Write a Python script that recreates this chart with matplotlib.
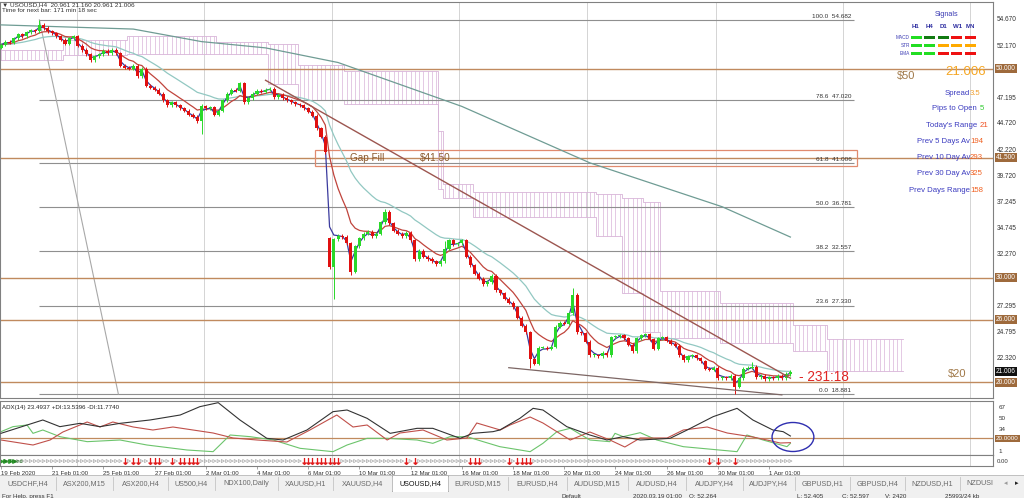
import matplotlib.pyplot as plt
import numpy as np
import pandas as pd
from matplotlib.patches import Rectangle, Ellipse

plt.rcParams['font.family'] = ['Liberation Sans', 'DejaVu Sans']

# ---------------- data ----------------
# USOUSD H4 closes, one per bar (19 Feb 2020 -> 1 Apr 2020)
closes = [
    52.3, 52.6, 52.5, 52.9, 53.3, 53.1, 53.5, 53.7, 53.6, 54.2,
    53.9, 53.6, 53.4, 53.1, 52.8, 52.4, 52.9, 53.1, 52.2, 51.8,
    51.4, 50.8, 51.2, 51.4, 51.7, 51.5, 51.8, 51.5, 50.3, 50.1,
    50.0, 50.3, 49.3, 50.0, 48.4, 48.2, 48.0, 47.6, 47.0, 46.5,
    46.8, 46.5, 46.2, 46.0, 45.6, 45.4, 45.0, 46.4, 46.2, 46.3,
    45.6, 46.0, 47.0, 47.6, 48.0, 47.9, 48.6, 46.8, 47.2, 47.6,
    47.9, 47.8, 48.0, 48.1, 47.3, 47.5, 47.2, 47.0, 46.8, 46.6,
    46.5, 46.2, 45.9, 45.5, 44.3, 43.5, 42.0, 31.0, 33.7, 34.0,
    33.9, 33.3, 30.6, 33.0, 33.8, 34.2, 34.4, 34.0, 34.2, 35.3,
    36.3, 35.2, 34.5, 34.2, 34.0, 34.3, 33.6, 31.8, 32.6, 32.0,
    31.8, 31.6, 31.3, 31.6, 32.8, 33.6, 33.2, 33.3, 33.6, 32.0,
    31.2, 30.4, 29.9, 29.4, 29.6, 30.2, 28.8, 28.5, 28.0, 27.6,
    27.2, 26.2, 25.4, 24.8, 22.2, 21.8, 23.3, 23.3, 23.2, 23.4,
    25.3, 25.7, 25.6, 26.6, 28.4, 24.8, 24.7, 23.9, 22.6, 22.6,
    22.5, 22.8, 22.6, 24.3, 24.4, 24.5, 24.2, 23.6, 23.0, 24.2,
    24.5, 24.6, 24.1, 23.2, 24.2, 24.3, 24.0, 23.7, 23.5, 22.6,
    22.1, 22.5, 22.6, 22.3, 22.0, 21.3, 21.2, 21.4, 20.4, 20.5,
    20.4, 20.6, 19.6, 20.4, 21.3, 21.4, 21.5, 20.5, 20.6, 20.3,
    20.5, 20.4, 20.6, 20.4, 20.8, 21.006,
]
first_open = 52.0
gap_opens = {77: 33.8}
wick_high = {9: 54.68, 90: 36.6, 134: 29.0, 176: 21.9, 47: 46.6, 104: 33.5}
wick_low = {47: 43.8, 78: 28.0, 82: 30.3, 124: 21.4, 172: 18.9}
wick = 0.15

# long moving average (grey-green), read as points
long_bars = [0, 31, 47, 62, 79, 108, 138, 169, 185]
long_vals = [54.2, 53.8, 52.6, 52.0, 50.6, 46.4, 41.0, 36.8, 33.9]

# ichimoku cloud: (first bar, last bar, upper, lower)
cloud = [
    (0, 14, 51.8, 50.8), (15, 29, 52.8, 51.3), (30, 50, 53.1, 51.4),
    (51, 62, 52.6, 51.4), (63, 69, 52.4, 48.5), (70, 80, 50.4, 47.0),
    (81, 102, 49.8, 46.6), (103, 103, 44.0, 38.5), (104, 110, 39.0, 37.6),
    (111, 139, 38.2, 35.8), (140, 145, 38.0, 34.0), (146, 150, 37.6, 28.5),
    (151, 154, 37.3, 24.8), (155, 168, 28.7, 24.2), (169, 185, 27.6, 23.8),
    (186, 193, 25.5, 23.0), (194, 211, 24.1, 21.1),
]

fib_pcts = ['100.0', '78.6', '61.8', '50.0', '38.2', '23.6', '0.0']
fib_levels = [54.682, 47.020, 41.006, 36.781, 32.557, 27.330, 18.881]
key_levels = [50.0, 41.5, 30.0, 26.0, 20.0]
gap_zone = (73.6, 200.6, 40.72, 42.25)
resist_line = ([62, 185], [48.9, 20.4])
support_line = ([119, 183], [21.4, 18.8])
fib_diag = ([9, 27.5], [54.682, 18.881])

price_ticks = [54.670, 52.170, 47.195, 44.720, 42.220, 39.720, 37.245,
               34.745, 32.270, 27.295, 24.795, 22.320]
date_bars = [0, 12, 24, 36, 48, 60, 72, 84, 96, 108, 120, 132, 144, 156, 168, 180]
date_labels = ['19 Feb 2020', '21 Feb 01:00', '25 Feb 01:00', '27 Feb 01:00',
               '2 Mar 01:00', '4 Mar 01:00', '6 Mar 01:00', '10 Mar 01:00',
               '12 Mar 01:00', '16 Mar 01:00', '18 Mar 01:00', '20 Mar 01:00',
               '24 Mar 01:00', '26 Mar 01:00', '30 Mar 01:00', '1 Apr 01:00']

# ADX(14) pane
adx_x = [0, 9.8, 13.8, 18.5, 23.2, 27.9, 34.9, 42, 46.6, 50.9, 56, 62.3, 66.1,
         71.7, 77.8, 81.1, 85.8, 91.2, 97.5, 101.2, 107.6, 110.6, 115.3, 116.9,
         121.6, 124.7, 127, 132.6, 138, 142, 145.8, 149.8, 156.8, 160.8, 166.9,
         172.5, 176.2, 180.9, 183.3, 185]
adx_v = [27.5, 47.5, 37.5, 42.5, 37.5, 42.5, 47.5, 55, 67.5, 73.5, 47.5, 20,
         17.5, 32.5, 60, 62.5, 50, 27.5, 35, 35, 20, 27.5, 30, 32.5, 50, 65,
         62.5, 37.5, 25, 17.5, 22.5, 17.5, 20, 32.5, 52.5, 65, 47.5, 32.5, 30, 23.5]
pdi_x = [0, 7.5, 11.5, 14.5, 20.2, 23.2, 26.2, 31, 35.6, 40.3, 45, 49.7, 54.4,
         60, 67, 72.4, 78.7, 82.5, 85.8, 90.5, 93.5, 98.9, 104.5, 109.2, 111.5,
         117, 119.3, 124, 127, 133.4, 138, 142.7, 146.2, 149.8, 156.1, 159.9,
         165.5, 170.2, 176.2, 179.5, 182.6, 185]
pdi_v = [17.5, 10, 17.5, 29.5, 44.5, 37, 44.5, 37, 32.5, 37, 32.5, 28, 20.5,
         17.5, 14.5, 32.5, 55, 37, 40, 17.5, 28, 32.5, 17.5, 20.5, 43, 32.5, 40,
         52, 43, 17.5, 29.5, 17.5, 7, 20.5, 20.5, 32.5, 37, 28, 22, 17.5, 13, 13.5]
mdi_x = [0, 2.8, 6.1, 7.5, 9.8, 13.8, 20.2, 27.9, 34.2, 43.6, 49.7, 53.7, 58.4,
         63.8, 70.1, 77.8, 81.1, 85.8, 90.5, 97.5, 101.2, 105.2, 109.2, 113,
         116.9, 124, 127, 130.3, 133.4, 138, 142.7, 143.9, 145.8, 149.8, 153.7,
         159.9, 172.5, 174.8, 178.6, 184.2, 185]
mdi_v = [30, 37.5, 40, 27.5, 32.5, 22.5, 15, 17.5, 10, 2.5, 0, 25, 22.5, 17.5,
         5, 0, 10, 20, 20, 17.5, 12.5, 22.5, 22.5, 15, 7.5, 0, 12.5, 30, 35,
         17.5, 15, 27.5, 22.5, 28.5, 17.5, 7.5, 0, 25, 17.5, 7.5, 12.5]
adx_ticks = [67, 50, 34, 1]

red_arrow_bars = [29, 31, 32, 35, 36, 37, 40, 42, 43, 44, 45, 46, 71, 72, 73,
                  74, 75, 76, 77, 78, 79, 95, 97, 110, 111, 112, 119, 121, 122,
                  123, 124, 166, 168, 172]

signal_rows = ['MACD', 'STR', 'EMA']
signal_cols = ['H1', 'H4', 'D1', 'W1', 'MN']
signal_state = [['#22dd22', '#127a12', '#127a12', '#ee1111', '#ee1111'],
                ['#22dd22', '#22dd22', '#ffaa00', '#ffaa00', '#ffaa00'],
                ['#22dd22', '#22dd22', '#ee1111', '#ee1111', '#ee1111']]

info_labels = ['Spread', 'Pips to Open', "Today's Range", 'Prev 5 Days Av',
               'Prev 10 Day Av', 'Prev 30 Day Av', 'Prev Days Range']
info_values = ['3.5', '5', '21', '194', '293', '325', '158']
info_colors = ['#f0a030', '#33cc33', '#f05020', '#f06020', '#f06020', '#f06020', '#f06020']

tabs = ['USDCHF,H4', 'ASX200,M15', 'ASX200,H4', 'US500,H4', 'NDX100,Daily',
        'XAUUSD,H1', 'XAUUSD,H4', 'USOUSD,H4', 'EURUSD,M15', 'EURUSD,H4',
        'AUDUSD,M15', 'AUDUSD,H4', 'AUDJPY,H4', 'AUDJPY,H4', 'GBPUSD,H1',
        'GBPUSD,H4', 'NZDUSD,H1', 'NZDUSI']
tab_edges = [0, 56, 113, 168, 215, 278, 333, 392, 448, 508, 567, 628, 686,
             743, 795, 850, 905, 960, 1000]
active_tab = 7

status_items = [(2, 'For Help, press F1'), (562, 'Default'), (633, '2020.03.19 01:00'),
                (689, 'O: 52.264'), (797, 'L: 52.405'), (842, 'C: 52.597'),
                (885, 'V: 2420'), (945, '25993/24 kb')]

# ---------------- layout ----------------
W, H = 1024, 498
fig = plt.figure(figsize=(W / 100, H / 100), dpi=100)
fig.patch.set_facecolor('white')


def box(top, bottom, left=0, right=993):
    return [left / W, 1 - bottom / H, (right - left) / W, (bottom - top) / H]


ax = fig.add_axes(box(2, 398))
ax2 = fig.add_axes(box(401, 455))
ax3 = fig.add_axes(box(455, 466))
xlim = (-1 / 4.267, 992 / 4.267)
for a in (ax, ax2, ax3):
    a.set_xlim(*xlim)
    a.set_xticks([])
    a.set_yticks([])
    for s in a.spines.values():
        s.set_color('#808080')
        s.set_linewidth(0.8)
    for gx in [17.8, 47.6, 77.6, 107.3, 137.3, 167.6, 197.3, 227.1]:
        a.axvline(gx, color='#d4d4d4', lw=0.7, zorder=0)
ax.set_ylim(18.50, 56.39)
ax2.set_ylim(-5, 76)
ax3.set_ylim(0, 1)

# ---------------- main pane ----------------
top_x, top_y, bot_y = [], [], []
for b0, b1, top, bot in cloud:
    bars = np.arange(b0, b1 + 1)
    ax.vlines(bars, bot, top, color='#e4c9e4', lw=0.7, zorder=1)
    top_x += [b0 - 0.5, b1 + 0.5]
    top_y += [top, top]
    bot_y += [bot, bot]
ax.plot(top_x, top_y, color='#d8b4d8', lw=0.6, zorder=1)
ax.plot(top_x, bot_y, color='#d8b4d8', lw=0.6, zorder=1)

for lvl in fib_levels:
    ax.hlines(lvl, 9, 200, color='#8f8f8f', lw=0.8, zorder=1.5)
for pct, lvl in zip(fib_pcts, fib_levels):
    ax.text(199.3, lvl + 0.12, f'{pct}  {lvl:.3f}', fontsize=4.6, ha='right',
            va='bottom', color='#333333', zorder=6)
ax.plot(*fib_diag, color='#a8a8a8', lw=0.8, zorder=1.5)

for lvl in key_levels:
    ax.axhline(lvl, color='#c08a5e', lw=1.0, zorder=2)

g0, g1, gl, gh = gap_zone
ax.add_patch(Rectangle((g0, gl), g1 - g0, gh - gl, fill=False,
                       edgecolor='#e08a6e', lw=0.9, zorder=2.5))
ax.text(81.8, 41.5, 'Gap Fill', fontsize=7.2, color='#8a5a2e', va='center', zorder=6)
ax.text(98.2, 41.5, '$41.50', fontsize=7.2, color='#8a5a2e', va='center', zorder=6)

cs = pd.Series(closes)
ema_fast = cs.ewm(span=2, adjust=False).mean()
ema_mid = cs.ewm(span=8, adjust=False).mean()
ema_slow = cs.ewm(span=21, adjust=False).mean()
idx = np.arange(len(closes))
ax.plot(long_bars, long_vals, color='#6f9c94', lw=0.9, zorder=3)
ax.plot(idx, ema_slow, color='#92c8c2', lw=0.9, zorder=3)
ax.plot(idx, ema_mid, color='#c0443c', lw=0.9, zorder=3)
ax.plot(idx, ema_fast, color='#3b3b9e', lw=0.9, zorder=3.2)

opens = [first_open] + closes[:-1]
for b, o in gap_opens.items():
    opens[b] = o
highs = [wick_high.get(i, max(o, c) + wick) for i, (o, c) in enumerate(zip(opens, closes))]
lows = [wick_low.get(i, min(o, c) - wick) for i, (o, c) in enumerate(zip(opens, closes))]
cols = ['#2ad82a' if c >= o else '#e01010' for o, c in zip(opens, closes)]
ax.vlines(idx, lows, highs, colors=cols, lw=0.7, zorder=4)
bottoms = [min(o, c) for o, c in zip(opens, closes)]
heights = [max(abs(c - o), 0.09) for o, c in zip(opens, closes)]
ax.bar(idx, heights, bottom=bottoms, width=0.72, color=cols, lw=0, zorder=4.2)

ax.plot(*resist_line, color='#9c5650', lw=1.0, zorder=5)
ax.plot(*support_line, color='#7c6664', lw=0.9, zorder=5)

ax.text(187, 20.52, '- 231:18', fontsize=9.8, color='#e02424', va='center', zorder=6)

yt = ax.get_yaxis_transform()
for t in price_ticks:
    ax.text(1.004, t, f'{t:.3f}', transform=yt, fontsize=4.7, va='center',
            ha='left', color='#333333', clip_on=False)
for lvl in key_levels:
    ax.text(1.003, lvl, f'{lvl:.3f}', transform=yt, fontsize=4.7, va='center',
            ha='left', color='white', clip_on=False,
            bbox=dict(boxstyle='square,pad=0.15', fc='#9e6a3c', ec='none'))
ax.text(1.003, closes[-1], f'{closes[-1]:.3f}', transform=yt, fontsize=4.7,
        va='center', ha='left', color='white', clip_on=False,
        bbox=dict(boxstyle='square,pad=0.15', fc='#111111', ec='none'))

# ---------------- ADX pane ----------------
ax2.axhline(20, color='#c08a5e', lw=0.9, zorder=1)
ax2.plot(mdi_x, mdi_v, color='#6cc46c', lw=0.8, zorder=2)
ax2.plot(pdi_x, pdi_v, color='#c0504a', lw=0.8, zorder=2)
ax2.plot(adx_x, adx_v, color='#333333', lw=0.8, zorder=3)
ax2.add_patch(Ellipse((185.6, 22), 9.8, 43.5, fill=False, ec='#2e2eb0', lw=1.0, zorder=4))
ax2.text(0.3, 70, 'ADX(14) 23.4937 +DI:13.5396 -DI:11.7740', fontsize=4.4,
         va='top', color='#222222')
yt2 = ax2.get_yaxis_transform()
for t in adx_ticks:
    ax2.text(1.006, t, str(t), transform=yt2, fontsize=4.5, va='center',
             color='#333333', clip_on=False)
ax2.text(1.003, 20, '20.0000', transform=yt2, fontsize=4.5, va='center',
         color='white', clip_on=False,
         bbox=dict(boxstyle='square,pad=0.15', fc='#9e6a3c', ec='none'))

# ---------------- arrow strip ----------------
grey_bars = [b for b in idx if b not in red_arrow_bars and b > 3]
ax3.scatter(grey_bars, [0.45] * len(grey_bars), marker='>', s=5, facecolor='none',
            edgecolor='#a8a8a8', lw=0.5)
ax3.scatter(red_arrow_bars, [0.5] * len(red_arrow_bars), marker=r'$\downarrow$',
            s=22, color='#e01010', lw=0.4)
ax3.scatter([0, 1, 2, 3], [0.45] * 4, marker='>', s=6, color='#2a9a2a')
ax3.text(0.5, 0.45, 'ArrTrend', fontsize=3.8, color='#1f6f1f', va='center')
ax3.text(1.004, 0.45, '0.00', transform=ax3.transAxes, fontsize=4.3,
         va='center', color='#333333', clip_on=False)
ax3.set_xticks(date_bars)
ax3.set_xticklabels(date_labels, fontsize=4.4, color='#333333')
for lab in ax3.get_xticklabels():
    lab.set_ha('left')
ax3.tick_params(axis='x', length=2, width=0.5, pad=1.5, color='#808080')

# ---------------- overlay (panel texts, tabs, status) ----------------
ov = fig.add_axes([0, 0, 1, 1])
ov.set_xlim(0, W)
ov.set_ylim(H, 0)
ov.axis('off')

ov.text(2, 4.5, '\u25bc USOUSD,H4  20.961 21.160 20.961 21.006', fontsize=4.6,
        color='#333333', va='center')
ov.text(2, 10.5, 'Time for next bar: 171 min 18 sec', fontsize=4.6,
        color='#333333', va='center')

ov.text(947, 14, 'Signals', fontsize=5.2, color='#3c3cb4', ha='center', va='center')
for j, name in enumerate(signal_cols):
    ov.text(916 + j * 13.7, 26, name, fontsize=4.4, color='#2c2ca0', ha='center',
            va='center', weight='bold')
for i, name in enumerate(signal_rows):
    y = 37 + i * 8
    ov.text(910, y, name, fontsize=3.4, color='#3c3cb4', ha='right', va='center')
    for j in range(len(signal_cols)):
        ov.add_patch(Rectangle((911 + j * 13.4, y - 1.5), 11, 3,
                               fc=signal_state[i][j], ec='none'))

ov.text(897, 76, '$50', fontsize=8, color='#a07848', va='center')
ov.text(986, 72, f'{closes[-1]:.3f}', fontsize=9.5, color='#f5a623', ha='right', va='center')
ov.text(948, 374, '$20', fontsize=8, color='#a07848', va='center')
info_y = [93, 108, 125, 141, 157, 173, 190]
for lab, val, c, y in zip(info_labels, info_values, info_colors, info_y):
    ov.text(970 if len(val) > 2 else 977, y, lab, fontsize=5.6, color='#3c3cc0',
            ha='right', va='center')
    ov.text(970 if len(val) > 2 else 980, y, val, fontsize=5.6, color=c,
            ha='left', va='center')

ov.add_patch(Rectangle((0, 475), W, 17, fc='#f0f0f0', ec='none'))
ov.plot([0, W], [475, 475], color='#b8b8b8', lw=0.6)
ov.add_patch(Rectangle((tab_edges[active_tab], 474.5),
                       tab_edges[active_tab + 1] - tab_edges[active_tab], 17.5,
                       fc='white', ec='#a0a0a0', lw=0.6))
for i, name in enumerate(tabs):
    x0, x1 = tab_edges[i], tab_edges[i + 1]
    ov.text((x0 + x1) / 2, 483.5, name, fontsize=5.2, ha='center', va='center',
            color='#111111' if i == active_tab else '#6a6a6a')
    if i > 0:
        ov.plot([x0, x0], [477, 490], color='#c4c4c4', lw=0.6)
ov.text(1006, 483.5, '\u25c2', fontsize=5, color='#9a9a9a', ha='center', va='center')
ov.text(1017, 483.5, '\u25b8', fontsize=5, color='#222222', ha='center', va='center')

# status bar: only the top of its line shows in the window, as in the screenshot
ov.add_patch(Rectangle((0, 492), W, 6, fc='#f0f0f0', ec='none'))
for x, s in status_items:
    ov.text(x, 493.5, s, fontsize=4.5, color='#333333', va='top')

fig.savefig('out.png', dpi=100, facecolor='white')
